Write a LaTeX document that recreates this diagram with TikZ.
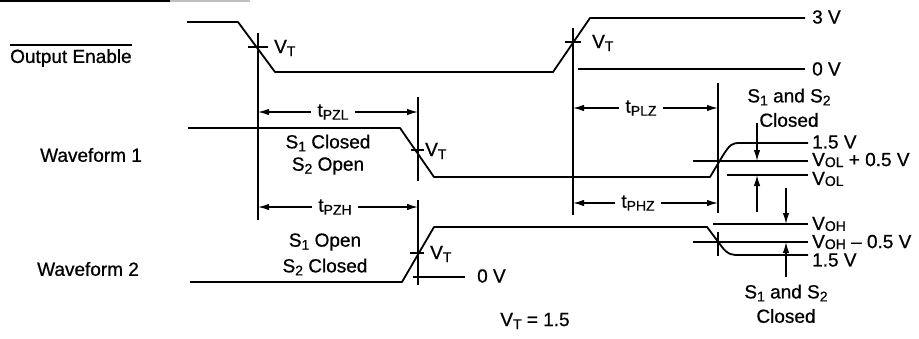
\documentclass[tikz,border=0pt]{standalone}
\usepackage{fontspec}
\setmainfont{Liberation Sans}[FakeBold=0.7]
\usetikzlibrary{arrows.meta}
\newcommand{\lsub}[1]{\raisebox{-0.16em}{\fontsize{14}{14}\selectfont #1}}
\newcommand{\hsub}[1]{\raisebox{-0.05em}{\fontsize{14}{14}\selectfont #1}}
\begin{document}
\begin{tikzpicture}[x=1pt,y=-1pt,
  wave/.style={line width=1.8pt, line join=round},
  guide/.style={line width=1.5pt},
  dim/.style={line width=1.4pt, -{Latex[length=11pt,width=6.5pt]}},
  lbl/.style={font=\fontsize{19}{22}\selectfont, inner sep=0pt},
  rl/.style={lbl, anchor=west}]
\useasboundingbox (0,0) rectangle (919,338);
\fill[white] (0,0) rectangle (919,338);
% page edge
\draw[line width=2pt] (0,1) -- (170,1);
\draw[line width=2pt, black!25] (170,1) -- (250,1);

% names
\node[lbl, anchor=west] (oe) at (10,58) {Output Enable};
\draw[line width=1.3pt] ([yshift=4pt]oe.north west) -- ([yshift=4pt]oe.north east);
\node[lbl, anchor=west] (w1) at (40,155) {Waveform 1};
\node[lbl, anchor=west] (w2) at (37,269) {Waveform 2};

% Output Enable waveform
\draw[wave] (187,22) -- (238,22) -- (275,72) -- (553,72) -- (590,18) -- (805,18);
\draw[wave] (578,69) -- (805,69);
\node[rl] (v3) at (812,17) {3 V};
\node[rl] (v0) at (812,69) {0 V};
\draw[guide] (248,47) -- (268,47);
\node[rl] (vt1) at (274,48) {V\lsub{T}};
\draw[guide] (565,42) -- (581,42);
\node[rl] (vt2) at (592,43) {V\lsub{T}};

% reference verticals
\draw[guide] (258,33) -- (258,220);
\draw[guide] (573,28) -- (573,215);
\draw[guide] (418,97) -- (418,181);
\draw[guide] (418,200) -- (418,285);
\draw[guide] (718,83) -- (718,213);
\draw[guide] (718,232) -- (718,256);

% dimensions
\node[lbl] (tpzl) at (333,112) {t\lsub{PZL}};
\draw[dim] ([xshift=-6pt]tpzl.west) -- (258,112);
\draw[dim] ([xshift=6pt]tpzl.east) -- (418,112);
\node[lbl] (tpzh) at (335,207) {t\lsub{PZH}};
\draw[dim] ([xshift=-6pt]tpzh.west) -- (258,207);
\draw[dim] ([xshift=6pt]tpzh.east) -- (418,207);
\node[lbl] (tplz) at (641,108) {t\lsub{PLZ}};
\draw[dim] ([xshift=-6pt]tplz.west) -- (573,108);
\draw[dim] ([xshift=6pt]tplz.east) -- (718,108);
\node[lbl] (tphz) at (638,203) {t\lsub{PHZ}};
\draw[dim] ([xshift=-6pt]tphz.west) -- (573,203);
\draw[dim] ([xshift=6pt]tphz.east) -- (718,203);

% Waveform 1
\draw[wave] (188,128) -- (400,128) -- (434,177) -- (710,177) -- (722,157)
  .. controls (730,144) and (732,143) .. (740,143) -- (808,143);
\draw[guide] (411,150) -- (424,150);
\node[rl] (vt3) at (425,151) {V\lsub{T}};
\node[lbl] (s1c) at (328,143) {S\lsub{1} Closed};
\node[lbl] (s2o) at (328,166) {S\lsub{2} Open};
\draw[wave] (693,161) -- (808,161);
\draw[wave] (727,175) -- (808,175);

% Waveform 2
\draw[wave] (190,282) -- (402,282) -- (434,227) -- (707,227) -- (722,247)
  .. controls (728,255) and (732,255) .. (740,255) -- (808,255);
\draw[guide] (410,253) -- (424,253);
\node[rl] (vt4) at (430,254) {V\lsub{T}};
\draw[guide] (413,277) -- (465,277);
\node[rl] (v0b) at (477,276) {0 V};
\node[lbl] (s1o) at (325,242) {S\lsub{1} Open};
\node[lbl] (s2c) at (325,267) {S\lsub{2} Closed};
\draw[wave] (713,224) -- (808,224);
\draw[wave] (693,242) -- (808,242);

% right-hand levels
\node[rl] (l15a) at (812,142) {1.5 V};
\node[rl] (lvol5) at (812,160) {V\hsub{OL} + 0.5 V};
\node[rl] (lvol) at (812,179) {V\hsub{OL}};
\node[rl] (lvoh) at (812,224) {V\hsub{OH}};
\node[rl] (lvoh5) at (812,242) {V\hsub{OH} – 0.5 V};
\node[rl] (l15b) at (812,260) {1.5 V};

% offset arrows
\draw[dim] (757,123) -- (757,161);
\draw[dim] (757,212) -- (757,175);
\draw[dim] (786,188) -- (786,224);
\draw[dim] (786,277) -- (786,242);

\node[lbl] (sc1) at (789,97) {S\lsub{1} and S\lsub{2}};
\node[lbl] (cl1) at (789,120) {Closed};
\node[lbl] (sc2) at (786,293) {S\lsub{1} and S\lsub{2}};
\node[lbl] (cl2) at (786,316) {Closed};

\node[lbl] (vt) at (535,321) {V\lsub{T} = 1.5};
\end{tikzpicture}
\end{document}
